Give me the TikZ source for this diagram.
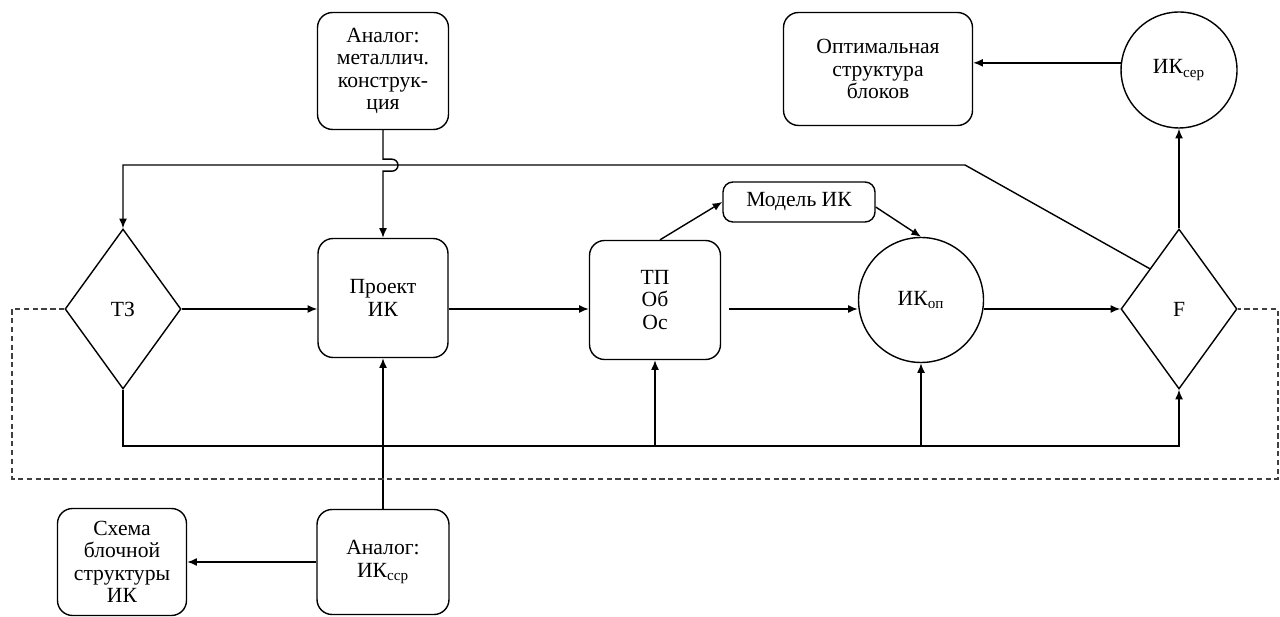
\documentclass[tikz,border=0pt]{standalone}
\usepackage{fontspec}
\setmainfont{Liberation Serif}
\usetikzlibrary{shapes.geometric}
\usetikzlibrary{arrows.meta}

\begin{document}
\begin{tikzpicture}[x=0.02cm, y=-0.02cm,
                    >={Latex[length=5.5pt,width=4.5pt]},
                    line width=0.8pt,
                    every node/.style={draw,
                      line width=0.8pt,
                      align=center,
                      inner sep=2pt,
                      text=black,
                      font=\fontsize{12.3}{12.8}\selectfont},
                    box/.style={rectangle,
                      rounded corners=0.3cm},
                    decision/.style={diamond,
                      inner sep=0pt,
                      minimum width=2.32cm,
                      minimum height=3.2cm},
                    round/.style={circle,
                      inner sep=0pt},
                    feedback/.style={dashed,
                      line width=0.6pt,
                      draw=black!75,
                      dash pattern=on 3pt off 2pt}]
\useasboundingbox (0,0) rectangle (1280,617);
\node (tz) [decision] at (123,309) {ТЗ};
\node (an1) [box, minimum width=2.62cm, minimum height=2.34cm] at (383,71) {Аналог:\\металлич.\\конструк-\\ция};
\node (proj) [box, minimum width=2.6cm, minimum height=2.38cm] at (383,298) {Проект\\ИК};
\node (tp) [box, minimum width=2.62cm, minimum height=2.38cm] at (655,300) {ТП\\Об\\Ос};
\node (mod) [box, rounded corners=0.2cm, minimum width=3.04cm, minimum height=0.8cm] at (799,202) {Модель ИК};
\node (ikop) [round, minimum size=2.5cm] at (921,300) {ИК\textsubscript{оп}};
\node (f) [decision] at (1179,309) {F};
\node (ikser) [round, minimum size=2.32cm] at (1179,70) {ИК\textsubscript{сер}};
\node (opt) [box, minimum width=3.78cm, minimum height=2.26cm] at (878,69) {Оптимальная\\структура\\блоков};
\node (an2) [box, minimum width=2.64cm, minimum height=2.1cm] at (383,562) {Аналог:\\ИК\textsubscript{сср}};
\node (sch) [box, minimum width=2.58cm, minimum height=2.14cm] at (122,562) {Схема\\блочной\\структуры\\ИК};
\coordinate (bend) at (965,165);
\coordinate (low) at (0,446);

\draw[->] (tz.east) -- (proj.west |- tz.east);
\draw[->] (proj.east |- tz.east) -- (tp.west |- tz.east);
\draw[->] ([xshift=0.16cm]tp.east |- tz.east) -- (ikop.west |- tz.east);
\draw[->] (ikop.east |- f.west) -- (f.west);
\draw[->] ([xshift=0.1cm]tp.north) -- (mod.west);
\draw[->] ([yshift=-0.1cm]mod.east) -- (ikop.north);
\draw[->] (f.north west) -- (bend) -| (tz.north);
\draw[->] (an1.south) -- ++(0,29) -- ++(9,0)
  arc[start angle=90, end angle=-90, radius=0.12cm] -- ++(-9,0) -- (proj.north);
\draw[->] (tz.south) |- (f.south |- low) -- (f.south);
\draw[->] (tp.south |- low) -- (tp.south);
\draw[->] (ikop.south |- low) -- (ikop.south);
\draw[->] (an2.north) -- (proj.south);
\draw[->] (an2.west) -- (sch.east);
\draw[->] (f.north) -- (ikser.south);
\draw[->] (ikser.173) -- (opt.east |- ikser.173);
\draw[feedback] (tz.west) -| (12,479) -| (1278,309) -- (f.east);
\end{tikzpicture}
\end{document}
